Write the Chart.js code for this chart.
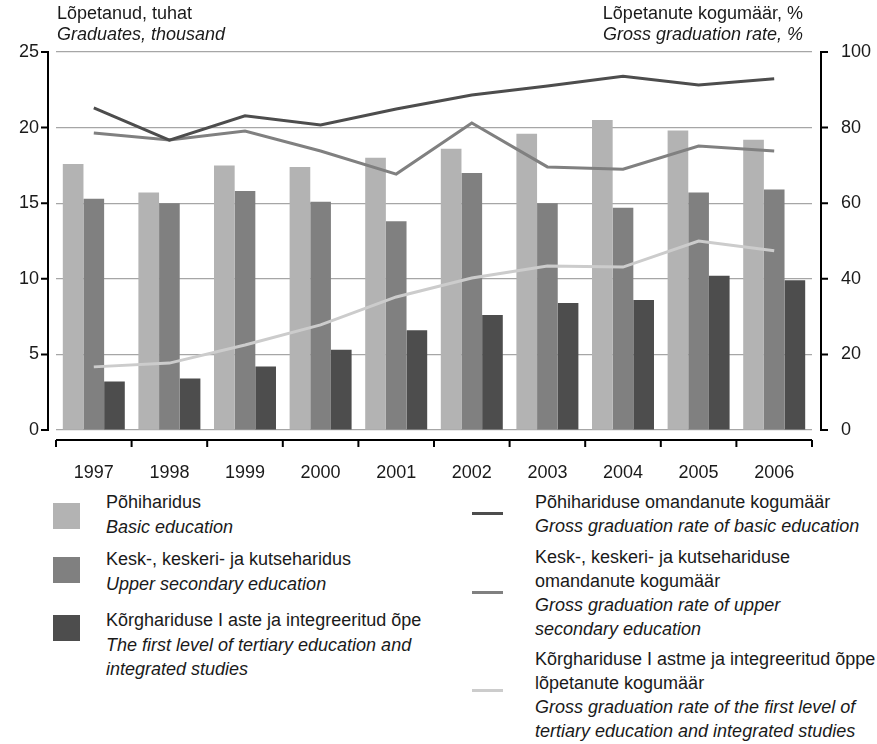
<!DOCTYPE html>
<html>
<head>
<meta charset="utf-8">
<script src="https://cdn.jsdelivr.net/npm/chart.js@4"></script>
<style>
    body { margin: 0; background: #fff; font-family: "Liberation Sans", Arial, sans-serif; color: #1a1a1a; }
    #wrap { position: relative; width: 877px; height: 744px; }
    #chartBox { position: absolute; left: 0; top: 0; width: 877px; height: 480px; }
    .txt { position: absolute; font-size: 18px; line-height: 24.5px; white-space: nowrap; }
    .txt i { font-style: italic; }
    .sw { position: absolute; width: 27px; height: 26px; }
    .ln { position: absolute; width: 31px; height: 3px; }
</style>
</head>
<body>
<div id="wrap">
    <div id="chartBox"><canvas id="gradChart" width="877" height="480"></canvas></div>

    <div class="txt" style="left:57px; top:3px; line-height:21px;">Lõpetanud, tuhat<br><i>Graduates, thousand</i></div>
    <div class="txt" style="right:74px; top:3px; line-height:21px; text-align:right;">Lõpetanute kogumäär, %<br><i>Gross graduation rate, %</i></div>

    <div class="sw" style="left:53px; top:503px; background:#b3b3b3;"></div>
    <div class="txt" style="left:106px; top:490px;">Põhiharidus<br><i>Basic education</i></div>
    <div class="sw" style="left:53px; top:557px; background:#808080;"></div>
    <div class="txt" style="left:106px; top:547px;">Kesk-, keskeri- ja kutseharidus<br><i>Upper secondary education</i></div>
    <div class="sw" style="left:53px; top:615px; background:#4d4d4d;"></div>
    <div class="txt" style="left:106px; top:608px;">Kõrghariduse I aste ja integreeritud õpe<br><i>The first level of tertiary education and</i><br><i>integrated studies</i></div>

    <div class="ln" style="left:472px; top:512px; background:#4d4d4d;"></div>
    <div class="txt" style="left:535px; top:490px; line-height:24px;">Põhihariduse omandanute kogumäär<br><i>Gross graduation rate of basic education</i></div>
    <div class="ln" style="left:472px; top:591px; background:#808080;"></div>
    <div class="txt" style="left:535px; top:545px; line-height:24px;">Kesk-, keskeri- ja kutsehariduse<br>omandanute kogumäär<br><i>Gross graduation rate of upper</i><br><i>secondary education</i></div>
    <div class="ln" style="left:472px; top:689px; background:#cccccc;"></div>
    <div class="txt" style="left:535px; top:647px; line-height:24px;">Kõrghariduse I astme ja integreeritud õppe<br>lõpetanute kogumäär<br><i>Gross graduation rate of the first level of</i><br><i>tertiary education and integrated studies</i></div>
</div>

<script>
const years = ['1997', '1998', '1999', '2000', '2001', '2002', '2003', '2004', '2005', '2006'];

// graduates, thousand
const basicGrad = [17.6, 15.7, 17.5, 17.4, 18.0, 18.6, 19.6, 20.5, 19.8, 19.2];
const upperGrad = [15.3, 15.0, 15.8, 15.1, 13.8, 17.0, 15.0, 14.7, 15.7, 15.9];
const tertiaryGrad = [3.2, 3.4, 4.2, 5.3, 6.6, 7.6, 8.4, 8.6, 10.2, 9.9];

// gross graduation rate, %
const basicRate = [85.2, 76.7, 83.1, 80.7, 84.9, 88.6, 91.0, 93.6, 91.3, 92.9];
const upperRate = [78.6, 76.7, 79.1, 73.8, 67.7, 81.2, 69.6, 69.0, 75.1, 73.8];
const tertiaryRate = [16.7, 17.7, 22.5, 27.8, 35.2, 40.2, 43.4, 43.1, 50.0, 47.4];

const leftTicks = [0, 5, 10, 15, 20, 25];
const rightTicks = [0, 20, 40, 60, 80, 100];

const FONT = { family: '"Liberation Sans", Arial, sans-serif', size: 18 };

// axis lines sit a bit away from the plot area, drawn by hand
const axisLines = {
    id: 'axisLines',
    afterDraw(c) {
        const ctx = c.ctx;
        const area = c.chartArea;
        const x = c.scales.x, yl = c.scales.y, yr = c.scales.y2;
        ctx.save();
        ctx.strokeStyle = '#000';
        ctx.lineWidth = 2;

        const lx = area.left - 8;
        ctx.beginPath();
        ctx.moveTo(lx, yl.getPixelForValue(25) - 1);
        ctx.lineTo(lx, yl.getPixelForValue(0) + 1);
        leftTicks.forEach(v => {
            const py = yl.getPixelForValue(v);
            ctx.moveTo(lx - 7, py);
            ctx.lineTo(lx, py);
        });
        ctx.stroke();

        const rx = area.right + 9;
        ctx.beginPath();
        ctx.moveTo(rx, yr.getPixelForValue(100) - 1);
        ctx.lineTo(rx, yr.getPixelForValue(0) + 1);
        rightTicks.forEach(v => {
            const py = yr.getPixelForValue(v);
            ctx.moveTo(rx, py);
            ctx.lineTo(rx + 7, py);
        });
        ctx.stroke();

        const by = area.bottom + 10;
        const step = (area.right - area.left) / years.length;
        ctx.beginPath();
        ctx.moveTo(area.left, by);
        ctx.lineTo(area.right, by);
        for (let i = 0; i <= years.length; i++) {
            const px = x.getPixelForTick(Math.min(i, years.length - 1)) + (i === years.length ? step / 2 : -step / 2);
            ctx.moveTo(px, by);
            ctx.lineTo(px, by + 7);
        }
        ctx.stroke();
        ctx.restore();
    }
};

const lineDs = (label, data, color) => ({
    type: 'line',
    label,
    data,
    yAxisID: 'y2',
    borderColor: color,
    borderWidth: 3,
    pointRadius: 0,
    tension: 0,
    order: 0
});

const barDs = (label, data, color) => ({
    type: 'bar',
    label,
    data,
    yAxisID: 'y',
    backgroundColor: color,
    categoryPercentage: 0.82,
    barPercentage: 1,
    order: 1
});

new Chart(document.getElementById('gradChart'), {
    data: {
        labels: years,
        datasets: [
            lineDs('Põhihariduse omandanute kogumäär', basicRate, '#4d4d4d'),
            lineDs('Kesk-, keskeri- ja kutsehariduse omandanute kogumäär', upperRate, '#808080'),
            lineDs('Kõrghariduse I astme ja integreeritud õppe lõpetanute kogumäär', tertiaryRate, '#cccccc'),
            barDs('Põhiharidus', basicGrad, '#b3b3b3'),
            barDs('Kesk-, keskeri- ja kutseharidus', upperGrad, '#808080'),
            barDs('Kõrghariduse I aste ja integreeritud õpe', tertiaryGrad, '#4d4d4d')
        ]
    },
    options: {
        responsive: false,
        animation: false,
        layout: { padding: { top: 52, left: 0, right: 0, bottom: 0 } },
        plugins: { legend: { display: false }, tooltip: { enabled: false } },
        scales: {
            x: {
                grid: { display: false },
                border: { display: false },
                ticks: { color: '#1a1a1a', font: FONT, padding: 24 },
                afterFit(s) { s.height = 50; }
            },
            y: {
                position: 'left',
                min: 0, max: 25,
                afterBuildTicks(s) { s.ticks = leftTicks.map(v => ({ value: v })); },
                grid: { color: '#a6a6a6', lineWidth: 1.2, drawTicks: false },
                border: { display: false },
                ticks: { color: '#1a1a1a', font: FONT, padding: 17 },
                afterFit(s) { s.width = 56; }
            },
            y2: {
                position: 'right',
                min: 0, max: 100,
                afterBuildTicks(s) { s.ticks = rightTicks.map(v => ({ value: v })); },
                grid: { display: false },
                border: { display: false },
                ticks: { color: '#1a1a1a', font: FONT, padding: 21 },
                afterFit(s) { s.width = 65; }
            }
        }
    },
    plugins: [axisLines]
});
</script>
</body>
</html>
